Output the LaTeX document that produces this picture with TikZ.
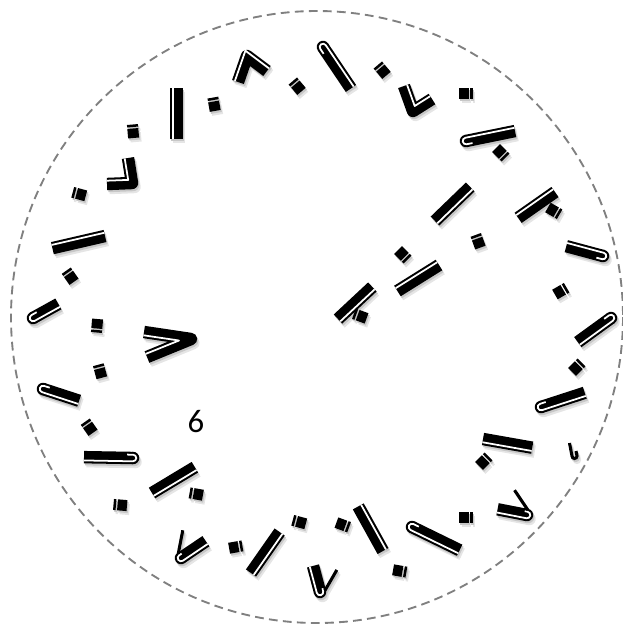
\documentclass[tikz,border=0pt]{standalone}
\usepackage{fontspec}
\newfontfamily\numfont{Carlito}
\definecolor{rimgray}{gray}{0.5}
\colorlet{ink}{black}
\colorlet{glint}{white}
\tikzset{
  rim/.style={draw=rimgray,line width=1.6pt,dash pattern=on 7.5pt off 4.5pt},
  slab/.style={draw=ink,line width=10.6pt},
  gleam/.style={draw=glint,line width=1.5pt},
  wire/.style={draw=ink,line width=2.6pt},
  otherside/.style={yscale=-1},
  numeral/.style={font=\numfont\fontsize{28}{32}\selectfont,text=black},
  pics/bar/.style={code={
    \draw[slab] (0,0) -- (#1,0);
    \draw[gleam] (0,3.3) -- (#1,3.3);
  }},
  pics/crook/.style={code={
    \fill[ink] (0,0) circle (6.25);
    \draw[slab] (0,0) -- (#1,0);
    \draw[gleam] (#1,3.3) -- (0,3.3) arc (90:270:3.3) -- (6,-3.3);
  }},
  pics/clip/.style={code={
    \fill[ink] (0,0) circle (6.25);
    \draw[slab] (0,0) -- (#1,0);
    \draw[gleam] (#1,3.3) -- (0,3.3) arc (90:270:3.3) -- (3,-3.3);
    \draw[wire] (0,-5) -- ++(-45:24);
  }},
  pics/tick/.style={code={
    \fill[ink] (-5.5,-7) rectangle (5.5,2.5);
    \fill[ink] (-5.5,4) rectangle (5.5,6.5);
  }},
}
\newcommand{\dialmarks}{%
  % bent marks
  \draw[slab,line join=round] (238,82) -- (247,56) -- (267,71);
  \draw[gleam,line join=round] (234.9,80.9) -- (245.4,50.7) -- (269,68.4);
  \draw[slab,line join=round] (128,158) -- (132,183) -- (107,184);
  \draw[gleam,line join=round] (124.7,158.5) -- (128.2,179.9) -- (106.9,180.7);
  \draw[slab,line join=round] (404,86) -- (413,111) -- (432,99);
  \draw[gleam,line join=round] (407.1,84.9) -- (414.7,106) -- (430.2,96.2);
  \draw[slab,line join=round] (144,332) -- (191,339) -- (147,357);
  \draw[gleam,line join=round] (143.5,335.3) -- (179,340.5) -- (145.7,353.9);
  % straight marks
  \pic[rotate=-90] at (176.5,88) {bar=51};
  \pic[rotate=-167] at (105,236) {bar=54};
  \pic[rotate=44] at (435,221) {bar=49};
  \pic[rotate=-145] at (555,192) {bar=45};
  \pic[rotate=-148] at (439,265) {bar=49};
  \pic[rotate=43] at (338,319) {bar=47};
  \pic[rotate=31] at (152,493) {bar=50};
  \pic[rotate=55] at (251,573) {bar=50};
  \pic[rotate=-10] at (483,439) {bar=50};
  \pic[rotate=119] at (383,551) {bar=51};
  % hooked marks
  \pic[rotate=29] at (33,318) {crook=29};
  \pic[rotate=-56,otherside] at (323,47) {crook=50};
  \pic[rotate=11.5,otherside] at (466,141) {crook=50};
  \pic[rotate=165] at (603,256) {crook=38};
  \pic[rotate=-144,otherside] at (611,318) {crook=41};
  \pic[rotate=-18] at (43,389) {crook=38};
  \pic[rotate=179,otherside] at (133,458) {crook=49};
  \pic[rotate=18] at (541,407) {crook=46};
  \pic[rotate=-26] at (412,527) {crook=53};
  \pic[rotate=34] at (181,558) {clip=30};
  \pic[rotate=105,otherside] at (320,592) {clip=27};
  \pic[rotate=169,otherside] at (527,515) {clip=30};
  \draw[wire] (569.5,443) -- (572,456) arc (180:0:2.5) -- (576,451);
  % small squares
  \pic[rotate=220] at (297,86) {tick};
  \pic[rotate=190] at (214,104) {tick};
  \pic[rotate=185] at (133,131) {tick};
  \pic[rotate=255] at (79,194) {tick};
  \pic[rotate=215] at (70,276) {tick};
  \pic[rotate=220] at (382,70) {tick};
  \pic[rotate=90] at (466,93) {tick};
  \pic[rotate=45] at (501,153) {tick};
  \pic[rotate=60] at (554,211) {tick};
  \pic[rotate=200] at (478,241) {tick};
  \pic[rotate=45] at (403,255) {tick};
  \pic[rotate=250] at (360,316) {tick};
  \pic[rotate=120] at (561,291) {tick};
  \pic[rotate=-5] at (97,326) {tick};
  \pic[rotate=195] at (100,371) {tick};
  \pic[rotate=215] at (89,427) {tick};
  \pic[rotate=260] at (196,494) {tick};
  \pic[rotate=265] at (120,505) {tick};
  \pic[rotate=100] at (236,547) {tick};
  \pic[rotate=255] at (299,522) {tick};
  \pic[rotate=135] at (577,367) {tick};
  \pic[rotate=135] at (484,461) {tick};
  \pic[rotate=90] at (466,517) {tick};
  \pic[rotate=70] at (343,525) {tick};
  \pic[rotate=80] at (400,571) {tick};
}
\begin{document}
\begin{tikzpicture}[x=0.03cm,y=-0.03cm]
  \useasboundingbox (0,0) rectangle (623,631);
  \coordinate (hub) at (317,317);
  \draw[rim] (hub) circle (306);
  \begin{scope}[shift={(2.5,4)}]
    \colorlet{ink}{black!10}\colorlet{glint}{black!10}
    \dialmarks
  \end{scope}
  \begin{scope}[shift={(1.2,2)}]
    \colorlet{ink}{black!22}\colorlet{glint}{black!22}
    \dialmarks
  \end{scope}
  \dialmarks
  \node[numeral] (six) at (196,422) {6};
\end{tikzpicture}
\end{document}
